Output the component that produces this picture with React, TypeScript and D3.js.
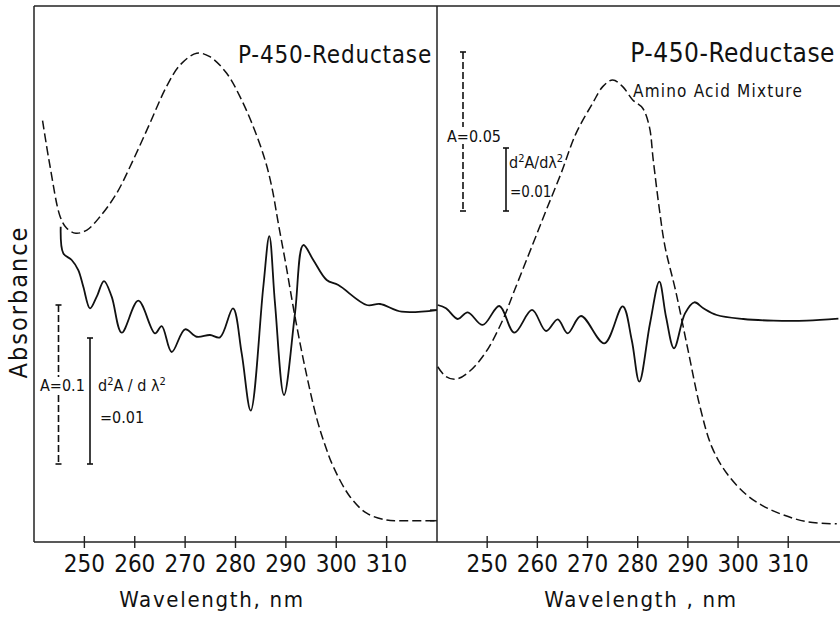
import React from "react";
import * as d3 from "d3";

// ---- data ----
const TICKS = [250, 260, 270, 280, 290, 300, 310];

// Left panel: P-450-Reductase absorbance (dashed)
const L_ABS_WL = [241.7, 243.2, 245.2, 246.5, 248.3, 250.5, 253.1, 256.4, 259.7, 263.0, 266.3, 269.0, 272.3, 274.9, 278.25, 280.89, 283.53, 285.86, 287.25, 288.5, 290.02, 291.81, 293.9, 296.12, 297.77, 299.41, 302.73, 306.04, 310.01, 312.65, 319.94];
const L_ABS_VAL = [0.265, 0.236, 0.2046, 0.1973, 0.1942, 0.1962, 0.2046, 0.2193, 0.2403, 0.2633, 0.2864, 0.300, 0.3074, 0.3052, 0.2948, 0.2801, 0.2612, 0.2403, 0.2226, 0.2004, 0.1742, 0.1417, 0.1082, 0.0778, 0.061, 0.0474, 0.0285, 0.0181, 0.0138, 0.0134, 0.0134];

// Left panel: second derivative (solid)
const L_D2_WL = [245.3, 245.82, 247.48, 248.79, 249.79, 251.12, 252.45, 253.9, 255.42, 257.41, 260.7, 264.02, 265.35, 267.33, 269.98, 272.3, 274.94, 276.92, 279.5, 281.23, 283.02, 285.52, 286.71, 287.84, 289.63, 291.81, 293.46, 295.44, 298.1, 300.41, 306.05, 308.69, 312.99, 319.94];
const L_D2_VAL = [0.00661, 0.0045, 0.00397, 0.00317, 0.00185, 0.00013, 0.00106, 0.0023, 0.00106, -0.0018, 0.00074, -0.00185, -0.00127, -0.00333, -0.00153, -0.00212, -0.00198, -0.00217, 0.00013, -0.00344, -0.00799, 0.00185, 0.00587, 0.00053, -0.00675, -0.00026, 0.00516, 0.00397, 0.00238, 0.00198, 0.0004, 0.00048, -0.00013, 0.0];

// Right panel: amino acid mixture absorbance (dashed)
const R_ABS_WL = [240.14, 241.79, 243.79, 246.44, 249.77, 253.1, 255.41, 259.08, 261.73, 264.72, 267.71, 271.03, 273.03, 275.02, 277.01, 279.01, 281.0, 282.32, 283.1, 284.34, 285.44, 287.53, 290.02, 292.42, 294.75, 297.74, 301.73, 305.04, 309.03, 313.69, 319.67];
const R_ABS_VAL = [0.0551, 0.052, 0.0512, 0.0536, 0.0598, 0.0698, 0.079, 0.0936, 0.1042, 0.1159, 0.1285, 0.138, 0.1432, 0.1453, 0.1432, 0.139, 0.1364, 0.1306, 0.1201, 0.1044, 0.0929, 0.0792, 0.0604, 0.0425, 0.030, 0.0216, 0.0148, 0.0113, 0.0085, 0.0064, 0.0057];

// Right panel: second derivative (solid)
const R_D2_WL = [240.14, 241.79, 244.13, 246.12, 249.11, 252.42, 255.41, 258.94, 261.73, 264.06, 266.05, 268.7, 273.35, 277.01, 278.81, 280.32, 282.46, 284.31, 285.64, 287.24, 289.43, 291.29, 293.08, 295.75, 301.05, 307.03, 313.69, 320.0];
const R_D2_VAL = [0.00238, 0.00186, 0.00016, 0.00122, -0.00079, 0.00222, -0.00202, 0.00159, -0.00175, 0.00011, -0.00211, 0.00063, -0.0037, 0.00217, -0.00317, -0.00979, -0.00052, 0.00608, 0.00052, -0.00449, 0.00106, 0.00281, 0.00186, 0.00079, 0.00016, -0.00011, -0.00011, 0.00021];

// scale bar magnitudes
const L_BAR_A = 0.1;
const L_BAR_D = 0.01;
const R_BAR_A = 0.05;
const R_BAR_D = 0.01;

const FONT = "'DejaVu Sans', 'Liberation Sans', sans-serif";

const W = 840;
const H = 617;
const TOP = 6;
const BOTTOM = 542;
const LX0 = 34;
const MID = 437;
const RX1 = 838.4;

const xL = d3.scaleLinear().domain([240, 320]).range([LX0, MID]);
const xR = d3.scaleLinear().domain([240, 320]).range([MID, RX1]);
const yAL = d3.scaleLinear().domain([0, 0.3371]).range([BOTTOM, TOP]);
const yDL = d3.scaleLinear().domain([-0.01841, 0.02413]).range([BOTTOM, TOP]);
const yAR = d3.scaleLinear().domain([0, 0.16855]).range([BOTTOM, TOP]);
const yDR = d3.scaleLinear().domain([-0.03524, 0.04984]).range([BOTTOM, TOP]);

function makePath(xs: number[], ys: number[], xs2: any, ys2: any) {
  const pts = xs.map((x, i) => [x, ys[i]] as [number, number]);
  const gen = d3
    .line<[number, number]>()
    .x((d) => xs2(d[0]))
    .y((d) => ys2(d[1]))
    .curve(d3.curveCatmullRom.alpha(0.5));
  return gen(pts) || "";
}

function ScaleBar({ x, yTop, yBot, dashed }: { x: number; yTop: number; yBot: number; dashed: boolean }) {
  return (
    <g stroke="#111" strokeWidth={1.6}>
      <line x1={x} x2={x} y1={yTop} y2={yBot} strokeDasharray={dashed ? "7,3" : undefined} />
      <line x1={x - 3} x2={x + 3} y1={yTop} y2={yTop} />
      <line x1={x - 3} x2={x + 3} y1={yBot} y2={yBot} />
    </g>
  );
}

export default function App() {
  const lAbs = makePath(L_ABS_WL, L_ABS_VAL, xL, yAL);
  const lD2 = makePath(L_D2_WL, L_D2_VAL, xL, yDL);
  const rAbs = makePath(R_ABS_WL, R_ABS_VAL, xR, yAR);
  const rD2 = makePath(R_D2_WL, R_D2_VAL, xR, yDR);

  const lBarBot = 464;
  const lBarAtop = lBarBot - (yAL(0) - yAL(L_BAR_A));
  const lBarDtop = lBarBot - (yDL(0) - yDL(L_BAR_D));
  const rBarBot = 211;
  const rBarAtop = rBarBot - (yAR(0) - yAR(R_BAR_A));
  const rBarDtop = rBarBot - (yDR(0) - yDR(R_BAR_D));

  const textStyle: React.CSSProperties = { fontFamily: FONT, fontStretch: "condensed" };

  return (
    <svg width={W} height={H} style={{ position: "absolute", left: 0, top: 0, background: "#fff" }}>
      <rect width={W} height={H} fill="#fff" />
      {/* frame */}
      <g stroke="#222" strokeWidth={1.5} fill="none">
        <line x1={LX0} x2={W} y1={TOP} y2={TOP} />
        <line x1={LX0} x2={LX0} y1={TOP} y2={BOTTOM} />
        <line x1={MID} x2={MID} y1={TOP} y2={BOTTOM} />
        <line x1={LX0} x2={W} y1={BOTTOM} y2={BOTTOM} />
        <line x1={MID - 7} x2={MID} y1={yDL(0)} y2={yDL(0)} />
        <line x1={MID - 7} x2={MID} y1={yAL(0.0134)} y2={yAL(0.0134)} />
      </g>
      {/* ticks */}
      <g stroke="#222" strokeWidth={1.4}>
        {TICKS.map((t) => (
          <line key={"l" + t} x1={xL(t)} x2={xL(t)} y1={BOTTOM - 6} y2={BOTTOM + 6} />
        ))}
        {TICKS.map((t) => (
          <line key={"r" + t} x1={xR(t)} x2={xR(t)} y1={BOTTOM - 6} y2={BOTTOM + 6} />
        ))}
      </g>
      <g style={textStyle} fontSize={24} fill="#111" textAnchor="middle">
        {TICKS.map((t) => (
          <text key={"lt" + t} x={xL(t)} y={572}>{t}</text>
        ))}
        {TICKS.map((t) => (
          <text key={"rt" + t} x={xR(t)} y={572}>{t}</text>
        ))}
      </g>
      {/* axis titles */}
      <text x={212} y={607} textAnchor="middle" fontSize={22} letterSpacing={1.7} style={textStyle} fill="#111">Wavelength, nm</text>
      <text x={641} y={607} textAnchor="middle" fontSize={22} letterSpacing={1.7} style={textStyle} fill="#111">Wavelength , nm</text>
      <text transform="translate(27,302) rotate(-90)" textAnchor="middle" fontSize={25} letterSpacing={2} style={textStyle} fill="#111">Absorbance</text>

      {/* curves */}
      <path d={lAbs} fill="none" stroke="#111" strokeWidth={1.5} strokeDasharray="9,4" />
      <path d={lD2} fill="none" stroke="#111" strokeWidth={1.8} />
      <path d={rAbs} fill="none" stroke="#111" strokeWidth={1.5} strokeDasharray="9,4" />
      <path d={rD2} fill="none" stroke="#111" strokeWidth={1.8} />

      {/* titles */}
      <text x={432} y={63} textAnchor="end" fontSize={24} letterSpacing={0.8} style={textStyle} fill="#111">P-450-Reductase</text>
      <text x={835} y={62} textAnchor="end" fontSize={26} letterSpacing={0.5} style={textStyle} fill="#111">P-450-Reductase</text>
      <text x={633} y={97} fontSize={17} letterSpacing={1.2} style={textStyle} fill="#111">Amino Acid Mixture</text>

      {/* scale bars left */}
      <ScaleBar x={58.5} yTop={lBarAtop} yBot={lBarBot} dashed={true} />
      <ScaleBar x={90} yTop={lBarDtop} yBot={lBarBot} dashed={false} />
      <rect x={40} y={377} width={40} height={17} fill="#fff" />
      <text x={40} y={391} fontSize={16} style={textStyle} fill="#111">A=0.1</text>
      <text x={98} y={391} fontSize={16} style={textStyle} fill="#111">
        d<tspan dy={-6} fontSize={11}>2</tspan>
        <tspan dy={6}>A / d λ</tspan>
        <tspan dy={-6} fontSize={11}>2</tspan>
      </text>
      <text x={100} y={423} fontSize={16} style={textStyle} fill="#111">=0.01</text>

      {/* scale bars right */}
      <ScaleBar x={463} yTop={rBarAtop} yBot={rBarBot} dashed={true} />
      <ScaleBar x={506} yTop={rBarDtop} yBot={rBarBot} dashed={false} />
      <rect x={447} y={127} width={55} height={17} fill="#fff" />
      <text x={447} y={141.5} fontSize={16} style={textStyle} fill="#111">A=0.05</text>
      <text x={509} y={168} fontSize={16} style={textStyle} fill="#111">
        d<tspan dy={-6} fontSize={11}>2</tspan>
        <tspan dy={6}>A/dλ</tspan>
        <tspan dy={-6} fontSize={11}>2</tspan>
      </text>
      <text x={510} y={196.5} fontSize={15} style={textStyle} fill="#111">=0.01</text>
    </svg>
  );
}
